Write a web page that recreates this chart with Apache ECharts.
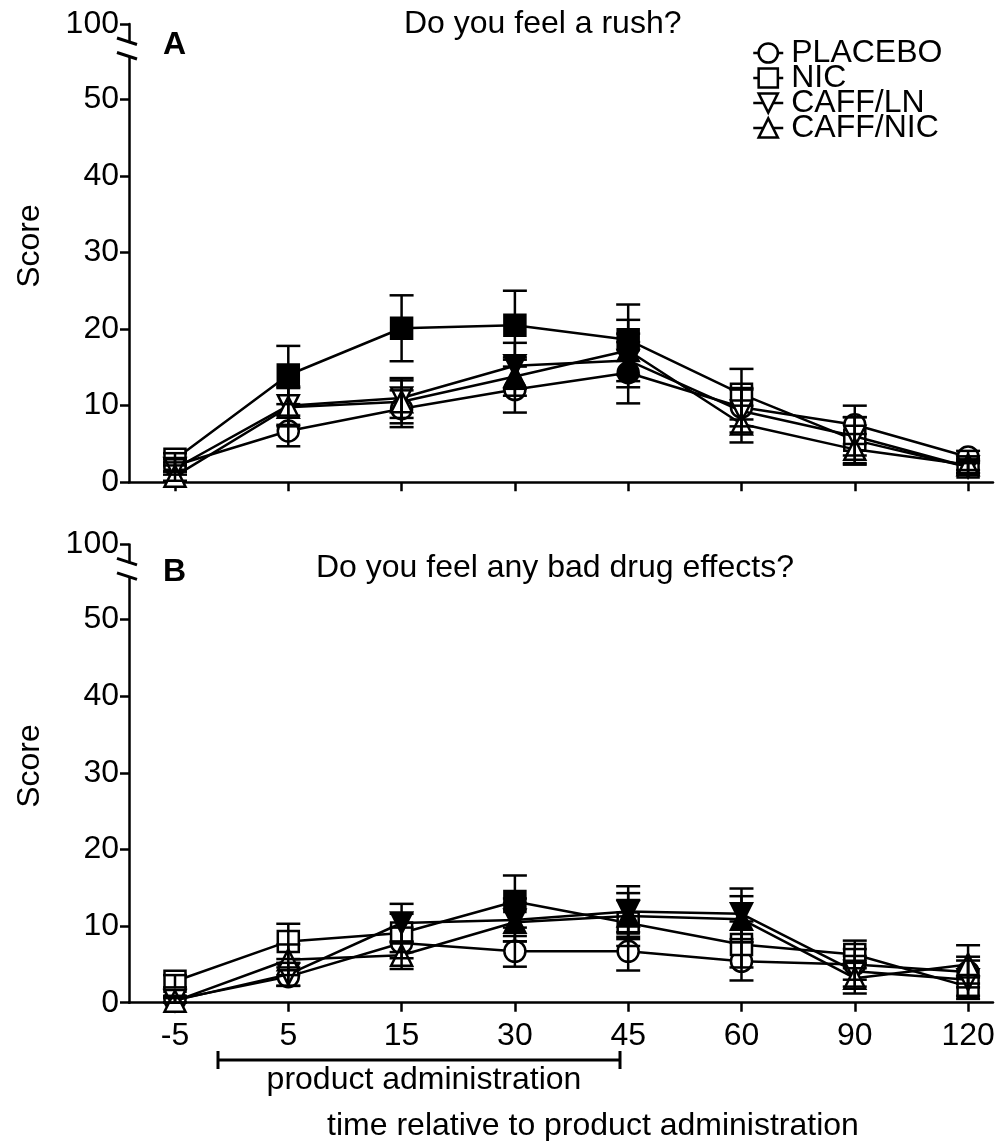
<!DOCTYPE html>
<html><head><meta charset="utf-8">
<script src="https://cdn.jsdelivr.net/npm/echarts@6/dist/echarts.min.js"></script>
<style>html,body{margin:0;padding:0;background:#fff}#c{width:999px;height:1141px}</style>
</head><body><div id="c"></div>
<script>
// ---------- data ----------
const categories = ['-5', '5', '15', '30', '45', '60', '90', '120'];
const yTicks = [0, 10, 20, 30, 40, 50];
const breakTick = [100];
const seriesNames = ['PLACEBO', 'NIC', 'CAFF/LN', 'CAFF/NIC'];

// Panel A: "Do you feel a rush?"
const placeboA      = [2.2, 6.7, 9.6, 12.1, 14.3, 9.8, 7.5, 3.3];
const placeboA_sem  = [0.8, 2.0, 2.4, 3.0, 4.0, 2.5, 2.5, 0.8];
const placeboA_fill = [0, 0, 0, 0, 1, 0, 0, 0];
const nicA          = [3.0, 14.0, 20.1, 20.5, 18.6, 11.5, 5.5, 2.0];
const nicA_sem      = [0.8, 3.8, 4.3, 4.5, 4.6, 3.3, 3.0, 0.8];
const nicA_fill     = [0, 1, 1, 1, 1, 0, 0, 0];
const caffLnA       = [1.8, 10.0, 11.0, 15.2, 15.9, 9.3, 6.0, 2.0];
const caffLnA_sem   = [0.8, 2.5, 2.6, 3.0, 3.5, 2.8, 2.5, 0.8];
const caffLnA_fill  = [0, 0, 0, 1, 1, 0, 0, 0];
const caffNicA      = [0.8, 9.8, 10.5, 13.8, 17.2, 7.6, 4.3, 2.3];
const caffNicA_sem  = [0.6, 2.5, 2.8, 2.5, 4.0, 2.4, 2.0, 0.7];
const caffNicA_fill = [0, 0, 0, 1, 1, 0, 0, 0];

// Panel B: "Do you feel any bad drug effects?"
const placeboB      = [0.4, 3.4, 7.8, 6.7, 6.7, 5.4, 5.0, 4.0];
const placeboB_sem  = [0.5, 1.2, 2.0, 2.0, 2.5, 2.5, 2.0, 2.0];
const placeboB_fill = [0, 0, 0, 0, 0, 0, 0, 0];
const nicB          = [2.8, 8.0, 9.1, 13.2, 10.4, 7.6, 6.3, 2.1];
const nicB_sem      = [0.8, 2.3, 2.5, 3.4, 3.0, 3.0, 1.8, 1.2];
const nicB_fill     = [0, 0, 0, 1, 0, 0, 0, 0];
const caffLnB       = [0.3, 3.7, 10.4, 10.8, 11.9, 11.6, 4.1, 3.0];
const caffLnB_sem   = [0.5, 1.5, 2.5, 2.8, 3.3, 3.3, 2.0, 2.5];
const caffLnB_fill  = [0, 0, 1, 1, 1, 1, 0, 0];
const caffNicB      = [0.2, 5.6, 6.2, 10.5, 11.3, 10.9, 3.2, 5.0];
const caffNicB_sem  = [0.4, 2.0, 1.8, 2.5, 3.0, 3.0, 2.0, 2.5];
const caffNicB_fill = [0, 0, 0, 1, 1, 1, 0, 0];

// ---------- styling ----------
const FONT = "'Liberation Sans', Arial, sans-serif";
const LW = 2.5;
const SYM = 21;
const symbols = ['circle', 'rect', 'path://M0,0 L10,0 L5,8.66 Z', 'triangle'];

const chart = echarts.init(document.getElementById('c'), null, {renderer: 'canvas'});

const gridL = 129, gridW = 864;
const grids = [
  {left: gridL, width: gridW, top: 57, height: 425.3},     // A main
  {left: gridL, width: gridW, top: 24, height: 18},        // A top stub
  {left: gridL, width: gridW, top: 577.4, height: 425.3},  // B main
  {left: gridL, width: gridW, top: 544.4, height: 18}      // B top stub
];

const axisLineStyle = {color: '#000', width: LW};
function xAxis(gi, showLabels, show) {
  return {
    type: 'value', gridIndex: gi, min: -0.406, max: 7.22, show: show,
    splitLine: {show: false},
    axisLine: {show: true, onZero: false, lineStyle: axisLineStyle},
    axisTick: {show: true, length: 9, inside: false, lineStyle: axisLineStyle,
               customValues: categories.map((c, i) => i)},
    axisLabel: {show: showLabels, margin: 17, color: '#000', fontSize: 32, fontFamily: FONT,
                customValues: categories.map((c, i) => i),
                formatter: v => categories[Math.round(v)]}
  };
}
function yAxisMain(gi) {
  return {
    type: 'value', gridIndex: gi, min: 0, max: 55.5, interval: 10,
    splitLine: {show: false},
    axisLine: {show: true, onZero: false, lineStyle: axisLineStyle},
    axisTick: {show: true, length: 9, lineStyle: axisLineStyle, customValues: yTicks},
    axisLabel: {margin: 10, color: '#000', fontSize: 32, fontFamily: FONT, customValues: yTicks}
  };
}
function yAxisStub(gi) {
  return {
    type: 'value', gridIndex: gi, min: 99, max: 100, interval: 1,
    splitLine: {show: false},
    axisLine: {show: true, onZero: false, lineStyle: axisLineStyle},
    axisTick: {show: true, length: 9, lineStyle: axisLineStyle, customValues: breakTick},
    axisLabel: {margin: 10, color: '#000', fontSize: 32, fontFamily: FONT, customValues: breakTick}
  };
}

function lineSeries(name, idx, vals, fill, gi) {
  return {
    type: 'line', name: name, xAxisIndex: gi, yAxisIndex: gi,
    data: vals.map((v, i) => ({value: [i, v], itemStyle: {color: fill[i] ? '#000' : '#fff'}})),
    symbol: symbols[idx], symbolSize: SYM, symbolKeepAspect: false,
    showAllSymbol: true,
    lineStyle: {color: '#000', width: LW},
    itemStyle: {color: '#fff', borderColor: '#000', borderWidth: LW},
    emphasis: {disabled: true},
    z: 2 + idx, animation: false
  };
}
function errSeries(vals, sems, gi, idx) {
  return {
    type: 'custom', xAxisIndex: gi, yAxisIndex: gi, silent: true, z: 10 + idx, animation: false,
    data: vals.map((v, i) => [i, Math.max(0, v - sems[i]), v + sems[i]]),
    renderItem: function (params, api) {
      const x = api.value(0);
      const lo = api.coord([x, api.value(1)]);
      const hi = api.coord([x, api.value(2)]);
      const w = 12;
      const st = {stroke: '#000', lineWidth: LW};
      return {type: 'group', children: [
        {type: 'line', shape: {x1: lo[0], y1: lo[1], x2: hi[0], y2: hi[1]}, style: st},
        {type: 'line', shape: {x1: hi[0] - w, y1: hi[1], x2: hi[0] + w, y2: hi[1]}, style: st},
        {type: 'line', shape: {x1: lo[0] - w, y1: lo[1], x2: lo[0] + w, y2: lo[1]}, style: st}
      ]};
    }
  };
}

const panelA = [
  [placeboA, placeboA_sem, placeboA_fill],
  [nicA, nicA_sem, nicA_fill],
  [caffLnA, caffLnA_sem, caffLnA_fill],
  [caffNicA, caffNicA_sem, caffNicA_fill]
];
const panelB = [
  [placeboB, placeboB_sem, placeboB_fill],
  [nicB, nicB_sem, nicB_fill],
  [caffLnB, caffLnB_sem, caffLnB_fill],
  [caffNicB, caffNicB_sem, caffNicB_fill]
];

const series = [];
panelA.forEach((p, i) => series.push(lineSeries(seriesNames[i], i, p[0], p[2], 0)));
panelB.forEach((p, i) => series.push(lineSeries(seriesNames[i], i, p[0], p[2], 2)));
panelA.forEach((p, i) => series.push(errSeries(p[0], p[1], 0, i)));
panelB.forEach((p, i) => series.push(errSeries(p[0], p[1], 2, i)));

function txt(text, x, y, opts) {
  return {type: 'text', x: x, y: y, silent: true,
    style: Object.assign({text: text, fill: '#000', font: '32px ' + FONT,
      textAlign: 'left', textVerticalAlign: 'middle'}, opts || {})};
}
function seg(x1, y1, x2, y2) {
  return {type: 'line', silent: true, shape: {x1, y1, x2, y2}, style: {stroke: '#000', lineWidth: LW + 0.5}};
}

const graphics = [
  txt('A', 163, 45.5, {font: 'bold 32px ' + FONT}),
  txt('Do you feel a rush?', 404, 24),
  txt('B', 163, 572, {font: 'bold 32px ' + FONT}),
  txt('Do you feel any bad drug effects?', 316, 568),
  {type: 'text', x: 30, y: 246, rotation: Math.PI / 2, silent: true,
   style: {text: 'Score', fill: '#000', font: '32px ' + FONT, textAlign: 'center', textVerticalAlign: 'middle'}},
  {type: 'text', x: 30, y: 766, rotation: Math.PI / 2, silent: true,
   style: {text: 'Score', fill: '#000', font: '32px ' + FONT, textAlign: 'center', textVerticalAlign: 'middle'}},
  seg(117, 38, 137, 44.5), seg(117, 52.5, 137, 59),
  seg(117, 558.4, 137, 564.9), seg(117, 572.9, 137, 579.4),
  seg(218, 1060, 620, 1060), seg(218, 1051, 218, 1069), seg(620, 1051, 620, 1069),
  {type: 'text', x: 424, y: 1080, silent: true,
   style: {text: 'product administration', fill: '#000', font: '32px ' + FONT, textAlign: 'center', textVerticalAlign: 'middle'}},
  {type: 'text', x: 593, y: 1126, silent: true,
   style: {text: 'time relative to product administration', fill: '#000', font: '32px ' + FONT, textAlign: 'center', textVerticalAlign: 'middle'}}
];

chart.setOption({
  animation: false,
  backgroundColor: '#fff',
  grid: grids,
  xAxis: [xAxis(0, false, true), xAxis(1, false, false), xAxis(2, true, true), xAxis(3, false, false)],
  yAxis: [yAxisMain(0), yAxisStub(1), yAxisMain(2), yAxisStub(3)],
  legend: {
    data: seriesNames, orient: 'vertical', left: 747, top: 32,
    itemWidth: 30, itemHeight: 24, itemGap: -7,
    selectedMode: false,
    textStyle: {fontSize: 32, fontFamily: FONT, color: '#000', padding: [0, 0, 0, 3]},
    itemStyle: {color: '#fff', borderColor: '#000', borderWidth: LW},
    lineStyle: {color: '#000', width: LW}
  },
  series: series,
  graphic: graphics
});
</script>
</body></html>
